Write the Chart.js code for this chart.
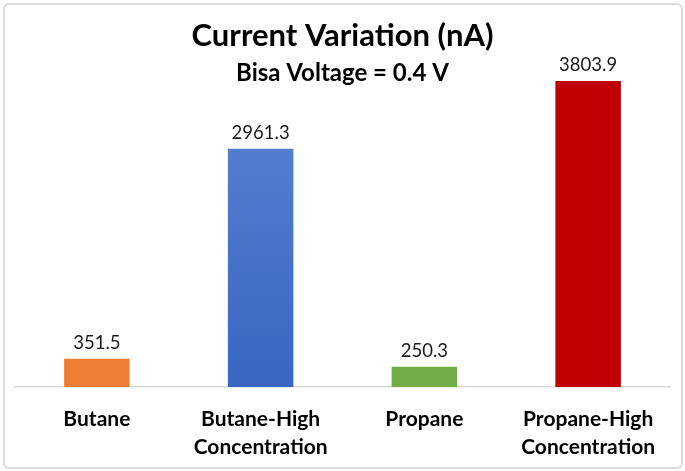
<!DOCTYPE html>
<html>
<head>
<meta charset="utf-8">
<script src="https://cdn.jsdelivr.net/npm/chart.js@4/dist/chart.umd.min.js"></script>
<style>
  html, body { margin: 0; padding: 0; background: #fff; }
  #wrap { position: relative; width: 685px; height: 471px; }
  #frame {
    position: absolute; left: 3px; top: 3px; width: 676px; height: 462px;
    border: 2px solid #dcdcdc; border-radius: 6px; pointer-events: none;
  }
</style>
</head>
<body>
<div id="wrap">
  <canvas id="chart" width="685" height="471"></canvas>
  <div id="frame"></div>
</div>
<script>
const categories = [
  "Butane",
  ["Butane-High", "Concentration"],
  "Propane",
  ["Propane-High", "Concentration"]
];
const currentValues = [351.5, 2961.3, 250.3, 3803.9];
const barColors = ["#ed7d31", "blue-gradient", "#70ad47", "#c00000"];

const FONT = "Lato, Carlito, Calibri, sans-serif";

// blue bar has a light gradient top -> bottom
function barFill(ctx) {
  const c = barColors[ctx.dataIndex];
  if (c !== "blue-gradient") return c;
  const area = ctx.chart.chartArea;
  if (!area) return "#4472c4";
  const g = ctx.chart.ctx.createLinearGradient(0, area.top, 0, area.bottom);
  g.addColorStop(0, "#5f84d2");
  g.addColorStop(1, "#3866c2");
  return g;
}

// value labels above bars
const valueLabels = {
  id: "valueLabels",
  afterDatasetsDraw(chart) {
    const ctx = chart.ctx;
    const meta = chart.getDatasetMeta(0);
    ctx.save();
    ctx.font = "18.5px " + FONT;
    ctx.fillStyle = "#1a1a1a";
    ctx.textAlign = "center";
    ctx.textBaseline = "alphabetic";
    meta.data.forEach((bar, i) => {
      ctx.fillText(currentValues[i].toFixed(1), bar.x, bar.y - 10);
    });
    ctx.restore();
  }
};

new Chart(document.getElementById("chart"), {
  type: "bar",
  data: {
    labels: categories,
    datasets: [{
      data: currentValues,
      backgroundColor: barFill,
      borderWidth: 0,
      categoryPercentage: 1,
      barPercentage: 0.4
    }]
  },
  options: {
    responsive: false,
    animation: false,
    layout: { padding: { left: 15, right: 15, top: 0, bottom: 0 } },
    scales: {
      x: {
        grid: { display: false },
        border: { display: true, color: "#d9d9d9", width: 1.5 },
        ticks: {
          color: "#000",
          padding: 10,
          maxRotation: 0,
          font: { family: FONT, size: 21, weight: "bold", lineHeight: "28px" }
        }
      },
      y: {
        display: false,
        min: 0,
        max: 4000
      }
    },
    plugins: {
      legend: { display: false },
      tooltip: { enabled: false },
      title: {
        display: true,
        text: "Current Variation (nA)",
        color: "#000",
        font: { family: FONT, size: 31, weight: "bold", lineHeight: 1.2 },
        padding: { top: 17.4, bottom: 0 }
      },
      subtitle: {
        display: true,
        text: "Bisa Voltage = 0.4 V",
        color: "#000",
        font: { family: FONT, size: 24, weight: "bold", lineHeight: 1.2 },
        padding: { top: 4.5, bottom: -22.7 }
      }
    }
  },
  plugins: [valueLabels]
});
</script>
</body>
</html>
